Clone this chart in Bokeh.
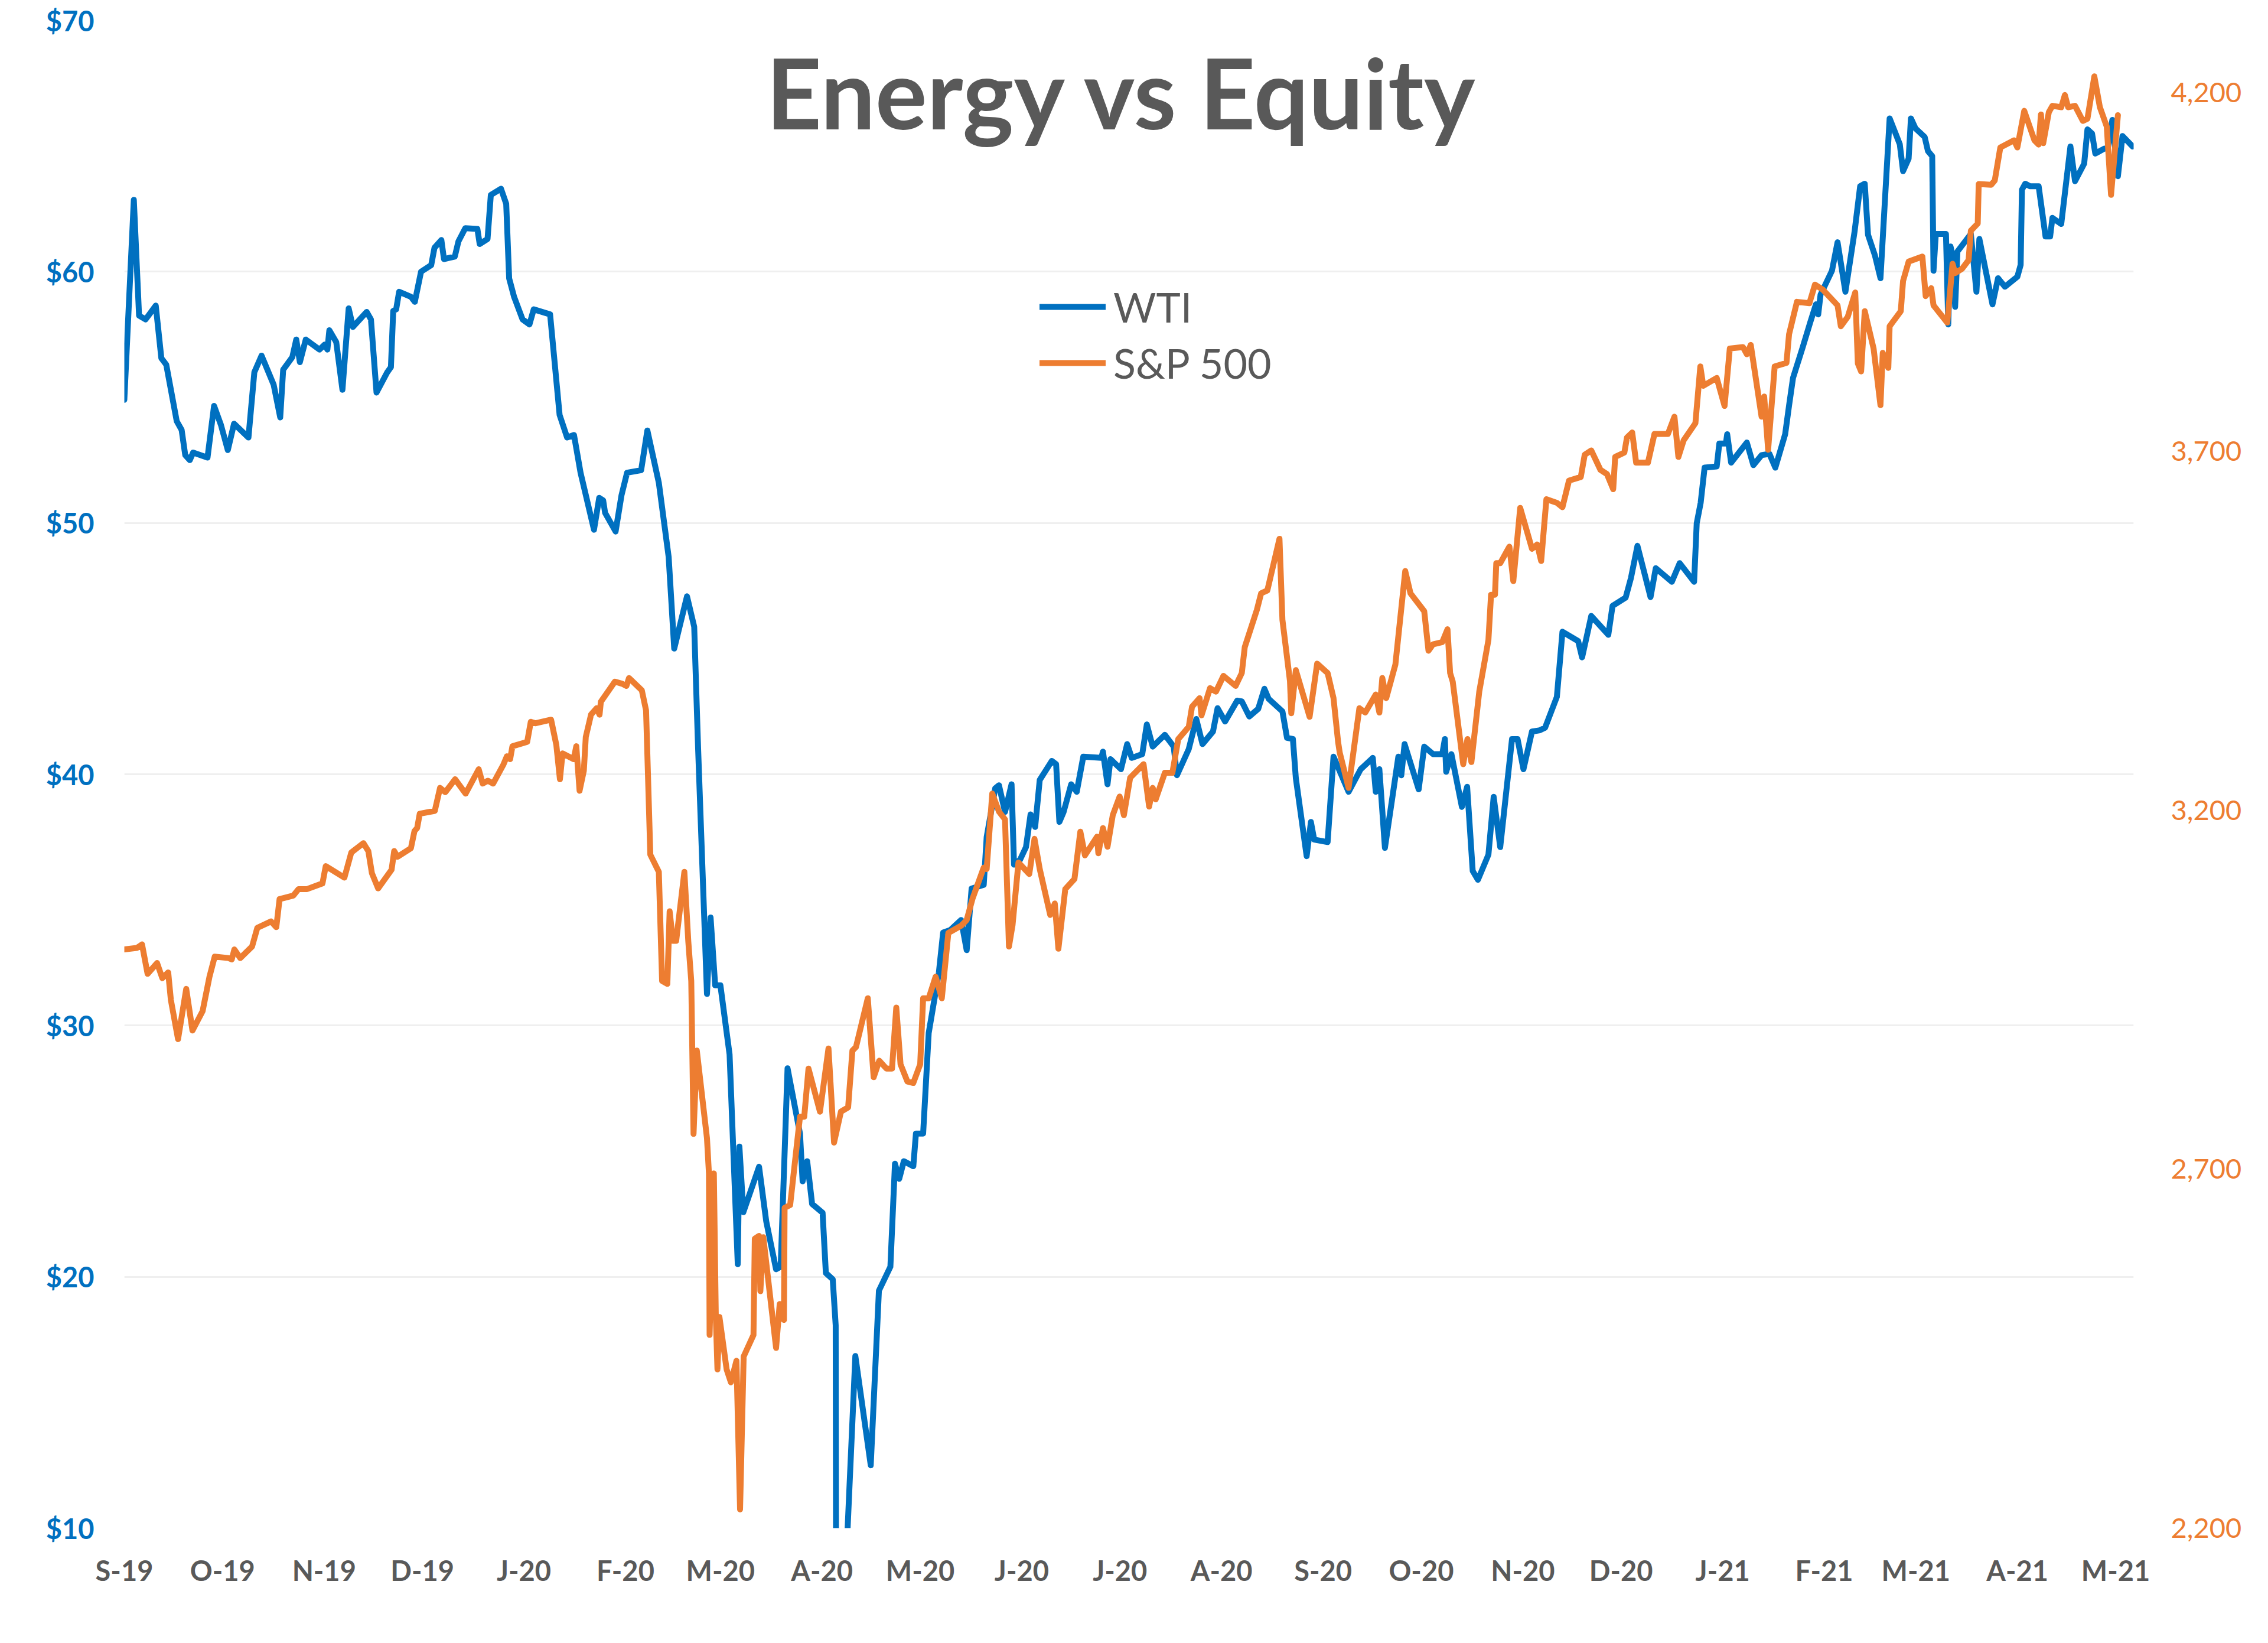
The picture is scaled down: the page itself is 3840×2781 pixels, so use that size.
from bokeh.plotting import figure
from bokeh.models import (Range1d, LinearAxis, FixedTicker, PrintfTickFormatter,
                          NumeralTickFormatter, Legend, LegendItem, Label)
from bokeh.core.properties import value
from bokeh.embed import file_html
from bokeh.resources import INLINE

# ---------------- data (x = days since 13 Sep 2019) ----------------
month_days = [0, 30, 61, 91, 122, 153, 182, 213, 243, 274, 304, 335, 366, 396,
              427, 457, 488, 519, 547, 578, 608]
month_labels = ["S-19", "O-19", "N-19", "D-19", "J-20", "F-20", "M-20", "A-20",
                "M-20", "J-20", "J-20", "A-20", "S-20", "O-20", "N-20", "D-20",
                "J-21", "F-21", "M-21", "A-21", "M-21"]

wti_day = [0, 2.9, 4.5, 6.5, 9.6, 11.3, 12.8, 16, 17.5, 18.6,
           20, 21, 25.4, 27.4, 29.5, 31.6, 33.5, 37.9, 39.7, 41.9,
           45.6, 47.6, 48.5, 51.3, 52.5, 53.6, 55.4, 59.6, 61.2, 62,
           62.6, 64.7, 66.6, 68.5, 69.8, 74, 75.3, 77, 80.3, 81.4,
           82.1, 83, 83.9, 87.5, 88.7, 90.6, 93.7, 94.7, 96.8, 97.6,
           100.9, 102, 104.1, 107.8, 108.5, 110.9, 111.9, 115, 116.6, 117.5,
           119, 121.6, 123.7, 125, 130, 132.9, 135.2, 137.3, 139.3, 143.4,
           145, 146.2, 146.8, 150, 151.8, 153.5, 157.8, 159.7, 163.2, 166.2,
           167.9, 171.8, 174, 175.2, 177.9, 179, 180.4, 182, 184.8, 187.3,
           187.8, 189, 193.8, 196, 199, 200.4, 202.5, 206.3, 207.1, 208.5,
           210, 213.2, 214.2, 216.3, 217.2, 217.8, 220.5, 223.2, 227.9, 230.4,
           233.9, 235.3, 236.6, 238, 240.9, 241.7, 243.9, 245.6, 248.7, 250,
           252.2, 255.5, 257.2, 258.7, 262.4, 263.3, 265.9, 267.05, 268.9, 270.9,
           271.65, 273.5, 275.3, 276.7, 278.1, 279.5, 283.2, 284.5, 285.5, 286.8,
           289.1, 290.8, 292.8, 298.3, 298.8, 300.2, 301.1, 304.3, 306.2, 307.6,
           310.8, 312.2, 314, 317.7, 320.4, 321.4, 325, 327.3, 329.2, 332.4,
           333.8, 336.1, 339.8, 341.2, 343.5, 346.2, 348.1, 349.4, 353.6, 355,
           356.8, 357.7, 361, 362.3, 363.3, 367.4, 369.2, 373.8, 377.5, 381.2,
           382.1, 383.2, 384.9, 389, 389.9, 390.9, 395.2, 396.9, 399.6, 402.4,
           403.2, 403.6, 405.2, 408.4, 410.0, 411.7, 413.3, 416.5, 418.1, 420.1,
           423.7, 425.4, 427.2, 429.8, 432.2, 433.8, 437.4, 439.1, 443.9, 445.1,
           447.9, 453.1, 454.4, 458.4, 460.0, 462.0, 466.0, 467.6, 472.5, 474.9,
           479.3, 480.1, 481.3, 482.5, 486.2, 487.0, 489.0, 489.4, 490.6, 495.4,
           497.4, 499.9, 502.3, 504.1, 507.1, 508.3, 509.5, 512.4, 514.8, 516.5,
           517.2, 517.9, 521.4, 523.1, 525.5, 528.3, 530, 531.4, 532.4, 534.5,
           536.2, 539, 542.1, 543.1, 544.8, 545.5, 546.9, 549.7, 550.7, 552,
           552.4, 553.1, 556.2, 556.9, 557.6, 558.3, 559, 559.7, 563.8, 565.5,
           566.4, 570.4, 572.1, 574.2, 578, 579, 579.4, 580.4, 581.8, 584.5,
           586.6, 588, 588.7, 591.4, 594.2, 595.6, 598.4, 599.4, 600.8, 601.8,
           604.6, 605.6, 607, 608.7, 610.1, 613.2]
wti_usd = [54.9, 62.86, 58.25, 58.1, 58.65, 56.56, 56.3, 54.05, 53.7, 52.7,
           52.5, 52.8, 52.6, 54.66, 53.9, 52.9, 53.95, 53.4, 56.0, 56.66,
           55.5, 54.2, 56.1, 56.6, 57.3, 56.4, 57.3, 56.9, 57.1, 56.9,
           57.67, 57.2, 55.3, 58.54, 57.8, 58.4, 58.1, 55.19, 56.0, 56.2,
           58.44, 58.5, 59.2, 59.0, 58.8, 60.0, 60.26, 60.95, 61.26, 60.5,
           60.6, 61.2, 61.73, 61.7, 61.1, 61.3, 63.05, 63.3, 62.7, 59.73,
           59.0, 58.1, 57.9, 58.5, 58.3, 54.3, 53.4, 53.5, 52.0, 49.73,
           51.0, 50.9, 50.4, 49.66, 51.1, 52.0, 52.1, 53.68, 51.6, 48.65,
           45.0, 47.08, 45.87, 41.0, 31.26, 34.3, 31.6, 31.6, 28.85, 20.5,
           25.18, 22.57, 24.38, 22.2, 20.3, 20.4, 28.3, 25.7, 23.8, 24.6,
           22.9, 22.55, 20.15, 19.9, 18.07, -37.6, 9.0, 16.85, 12.5, 19.45,
           20.4, 24.5, 23.9, 24.6, 24.4, 25.7, 25.7, 29.7, 32.1, 33.7,
           33.8, 34.2, 33.0, 35.45, 35.6, 37.5, 39.44, 39.56, 38.5, 39.6,
           36.4, 36.6, 37.1, 38.4, 37.9, 39.77, 40.53, 40.4, 38.1, 38.5,
           39.6, 39.3, 40.7, 40.65, 40.9, 39.6, 40.6, 40.2, 41.2, 40.65,
           40.8, 41.98, 41.1, 41.57, 41.1, 39.96, 41.0, 42.2, 41.2, 41.7,
           42.63, 42.1, 42.93, 42.9, 42.3, 42.6, 43.4, 43.0, 42.5, 41.45,
           41.4, 39.84, 36.74, 38.1, 37.4, 37.3, 40.7, 39.3, 40.2, 40.65,
           39.3, 40.2, 37.07, 40.7, 39.96, 41.2, 39.4, 41.1, 40.8, 40.8,
           41.4, 40.1, 40.8, 38.7, 39.5, 36.15, 35.8, 36.8, 39.1, 37.1,
           41.4, 41.4, 40.2, 41.7, 41.75, 41.85, 43.08, 45.67, 45.3, 44.65,
           46.3, 45.55, 46.7, 47.03, 47.8, 49.09, 47.05, 48.2, 47.66, 48.4,
           47.66, 49.99, 50.8, 52.2, 52.25, 53.16, 53.16, 53.53, 52.4, 53.2,
           52.3, 52.7, 52.75, 52.2, 53.53, 54.68, 55.77, 56.97, 58.0, 58.7,
           58.3, 59.08, 60.04, 61.17, 59.2, 61.6, 63.4, 63.5, 61.47, 60.65,
           59.74, 66.1, 65.07, 64.0, 64.5, 66.1, 65.7, 65.36, 64.8, 64.6,
           60.04, 61.5, 61.5, 57.9, 61.0, 60.6, 58.6, 60.8, 61.5, 59.2,
           61.3, 58.7, 59.74, 59.4, 59.8, 60.27, 63.26, 63.5, 63.4, 63.4,
           61.4, 61.4, 62.14, 61.9, 64.98, 63.6, 64.3, 65.66, 65.5, 64.7,
           64.9, 64.9, 66.04, 63.8, 65.4, 64.98]

spx_day = [0, 3.8, 5.4, 7.1, 10, 11.6, 13.4, 14.2, 16.4, 18.9,
           20.8, 23.9, 26, 27.6, 31.8, 32.8, 33.6, 35.4, 39, 40.6,
           44.8, 46.4, 47.4, 51.6, 53.2, 55.8, 60.5, 61.5, 67.2, 69.3,
           73, 74.5, 75.6, 77.5, 81.6, 82.4, 83.4, 87.5, 88.6, 89.4,
           90.2, 94.8, 96.4, 98, 101, 104.2, 108.2, 109.4, 111, 112.6,
           115.7, 116.8, 117.8, 118.5, 123, 124.1, 125.6, 130.3, 131.9, 133,
           133.8, 137.2, 138, 139, 140.3, 140.9, 142.5, 144.2, 145.1, 145.5,
           149.8, 152, 153.3, 154.1, 158, 159.3, 160.6, 163.2, 164.2, 165.8,
           166.5, 167.5, 168.5, 171, 172.2, 173.1, 173.8, 174.8, 177.9, 178.5,
           178.7, 180, 180.6, 181.1, 181.7, 183.9, 185.2, 186.9, 188, 189.1,
           192.1, 192.5, 193.8, 194.2, 195.1, 199, 200.1, 201.4, 201.6, 203.3,
           206.3, 207.6, 208.9, 212.4, 215, 216.7, 218.8, 221, 222.3, 223.4,
           227, 228.8, 230.5, 232.7, 234.4, 235.7, 237, 239.1, 240.9, 243,
           243.9, 245.6, 247.7, 249.6, 251.6, 255.5, 257.2, 259, 262.4, 263.3,
           265, 267.05, 268.9, 270.1, 271.2, 273, 276.3, 277.9, 279.5, 282.7,
           284.1, 285.2, 287.3, 290.1, 291.9, 293.3, 297, 297.4, 298.8, 300.2,
           301.8, 303.9, 305.2, 307.1, 311.2, 312.9, 314, 314.9, 317.7, 320,
           321.8, 325, 326, 328.3, 328.9, 331.5, 333.3, 335.6, 339.3, 341.2,
           342.1, 345.8, 347.1, 349, 352.7, 353.6, 355.9, 356.3, 357.7, 361.9,
           364.2, 367.4, 369.2, 370.6, 371.1, 373.8, 377.1, 378.9, 382.1, 383.2,
           384.1, 385.3, 388.1, 391.1, 392.7, 396.9, 398.2, 399.6, 402.4, 404.0,
           404.8, 405.6, 408.8, 410.1, 411.3, 413.7, 416.5, 417.3, 418.5, 418.9,
           420.1, 422.9, 424.1, 426.2, 429.8, 431.4, 432.6, 434.2, 437.4, 439.1,
           441.1, 444.7, 445.9, 447.9, 450.7, 452.7, 454.6, 455.2, 458.0, 458.8,
           460.4, 461.6, 465.2, 467.2, 471.3, 473.3, 474.5, 476.1, 479.7, 481.2,
           482.1, 486.2, 488.6, 490.2, 494.2, 495.4, 496.6, 499.9, 500.7, 501.9,
           503.9, 507.5, 508.3, 510.7, 514.5, 516.2, 518.6, 523.1, 524.1, 526.2,
           528.5, 529.3, 530.3, 531.4, 534.1, 536.2, 536.9, 538.6, 539, 542.4,
           543.1, 544.8, 549, 550, 551.7, 552.4, 556.6, 558.2, 559, 561.1,
           563.1, 563.8, 565.9, 566.2, 570, 571.1, 572.8, 577, 578, 580.1,
           583.2, 584.5, 585.2, 585.9, 587.6, 588.7, 591.4, 592.5, 593.5, 595.6,
           598, 599.4, 601.5, 603.2, 605.3, 606.6, 608.7]
spx_pts = [3006, 3008, 3013, 2972, 2987, 2966, 2974, 2936, 2881, 2951,
           2893, 2920, 2968, 2996, 2994, 2992, 3006, 2994, 3010, 3036,
           3045, 3037, 3076, 3081, 3090, 3090, 3098, 3122, 3106, 3141,
           3154, 3143, 3112, 3091, 3117, 3143, 3135, 3147, 3171, 3175,
           3195, 3199, 3231, 3225, 3243, 3223, 3257, 3237, 3241, 3237,
           3263, 3275, 3271, 3289, 3295, 3323, 3321, 3326, 3291, 3243,
           3279, 3271, 3289, 3227, 3255, 3302, 3333, 3342, 3333, 3351,
           3379, 3376, 3373, 3384, 3367, 3339, 3138, 3114, 2962, 2958,
           3059, 3018, 3018, 3114, 3017, 2962, 2749, 2865, 2743, 2694,
           2469, 2694, 2494, 2421, 2494, 2421, 2403, 2433, 2226, 2439,
           2469, 2603, 2607, 2530, 2605, 2451, 2512, 2490, 2646, 2650,
           2773, 2773, 2840, 2780, 2868, 2737, 2780, 2786, 2865, 2870,
           2938, 2828, 2851, 2840, 2840, 2925, 2846, 2822, 2820, 2846,
           2938, 2938, 2968, 2938, 3029, 3039, 3047, 3077, 3120, 3118,
           3223, 3198, 3187, 3010, 3040, 3127, 3111, 3160, 3118, 3054,
           3070, 3007, 3090, 3104, 3170, 3137, 3163, 3140, 3175, 3149,
           3193, 3219, 3193, 3245, 3264, 3205, 3231, 3215, 3252, 3252,
           3299, 3316, 3344, 3356, 3332, 3370, 3365, 3387, 3373, 3391,
           3427, 3479, 3502, 3506, 3578, 3465, 3380, 3335, 3395, 3330,
           3404, 3391, 3356, 3295, 3280, 3231, 3342, 3336, 3361, 3336,
           3384, 3356, 3403, 3533, 3502, 3477, 3422, 3431, 3434, 3452,
           3391, 3379, 3264, 3299, 3267, 3365, 3437, 3500, 3500, 3544,
           3544, 3567, 3519, 3621, 3564, 3570, 3547, 3633, 3628, 3622,
           3659, 3664, 3695, 3701, 3674, 3668, 3647, 3692, 3698, 3719,
           3726, 3684, 3684, 3724, 3724, 3748, 3692, 3715, 3739, 3818,
           3791, 3802, 3763, 3843, 3845, 3835, 3848, 3748, 3776, 3702,
           3818, 3823, 3863, 3908, 3906, 3932, 3925, 3903, 3874, 3887,
           3921, 3822, 3811, 3895, 3843, 3764, 3837, 3816, 3874, 3895,
           3937, 3964, 3971, 3916, 3927, 3903, 3879, 3961, 3948, 3954,
           3966, 4007, 4017, 4072, 4071, 4077, 4123, 4133, 4123, 4174,
           4133, 4127, 4169, 4129, 4172, 4181, 4179, 4196, 4179, 4181,
           4160, 4163, 4222, 4179, 4152, 4057, 4168]

wti_ticks = [10, 20, 30, 40, 50, 60, 70]
spx_ticks = [2200, 2700, 3200, 3700, 4200]

BLUE = "#0070C0"
ORANGE = "#ED7D31"
GRAY = "#595959"
FONT = "Lato"

p = figure(width=3824, height=2765, output_backend="svg", toolbar_location=None,
           x_range=Range1d(0, 613.5), y_range=Range1d(10, 70),
           min_border_left=210, min_border_right=212, min_border_top=34,
           min_border_bottom=179)
p.extra_y_ranges = {"spx": Range1d(2200, 4300)}
p.outline_line_color = None
p.background_fill_color = "white"
p.border_fill_color = "white"

# x axis
xa = p.xaxis[0]
xa.ticker = FixedTicker(ticks=month_days)
xa.major_label_overrides = {d: lbl for d, lbl in zip(month_days, month_labels)}
xa.axis_line_color = None
xa.major_tick_line_color = None
xa.minor_tick_line_color = None
xa.major_label_text_font = FONT
xa.major_label_text_font_style = "bold"
xa.major_label_text_font_size = "47px"
xa.major_label_text_color = GRAY
xa.major_label_standoff = 37

# left axis
ya = p.yaxis[0]
ya.ticker = FixedTicker(ticks=wti_ticks)
ya.formatter = PrintfTickFormatter(format="$%d")
ya.axis_line_color = None
ya.major_tick_line_color = None
ya.minor_tick_line_color = None
ya.major_label_text_font = FONT
ya.major_label_text_font_style = "bold"
ya.major_label_text_font_size = "47px"
ya.major_label_text_color = BLUE
ya.major_label_standoff = 45

# right axis
ra = LinearAxis(y_range_name="spx", ticker=FixedTicker(ticks=spx_ticks),
                formatter=NumeralTickFormatter(format="0,0"))
ra.axis_line_color = None
ra.major_tick_line_color = None
ra.minor_tick_line_color = None
ra.major_label_text_font = FONT
ra.major_label_text_font_size = "47px"
ra.major_label_text_color = ORANGE
ra.major_label_standoff = 57
p.add_layout(ra, "right")

p.xgrid.visible = False
p.ygrid.grid_line_color = "#EFEFEF"
p.ygrid.grid_line_width = 3

r_wti = p.line(wti_day, wti_usd, line_color=BLUE, line_width=10,
               line_join="round", line_cap="round")
r_spx = p.line(spx_day, spx_pts, line_color=ORANGE, line_width=10,
               line_join="round", line_cap="round", y_range_name="spx")

title = Label(x=304.9, y=67.15, text="Energy vs Equity", text_align="center",
              text_baseline="alphabetic", text_font=FONT, text_font_style="bold",
              text_font_size="164px", text_color=GRAY)
p.add_layout(title)

legend = Legend(items=[LegendItem(label=value("WTI"), renderers=[r_wti]),
                       LegendItem(label=value("S&P 500"), renderers=[r_spx])],
                location=(1550, 1930), orientation="vertical",
                glyph_width=112, glyph_height=80, label_height=80,
                spacing=11, padding=0, margin=0, label_standoff=13,
                label_text_font=FONT, label_text_font_size="70px",
                label_text_color=GRAY, border_line_color=None,
                background_fill_alpha=0)
p.add_layout(legend)

open("out.html", "w").write(file_html(p, INLINE))
